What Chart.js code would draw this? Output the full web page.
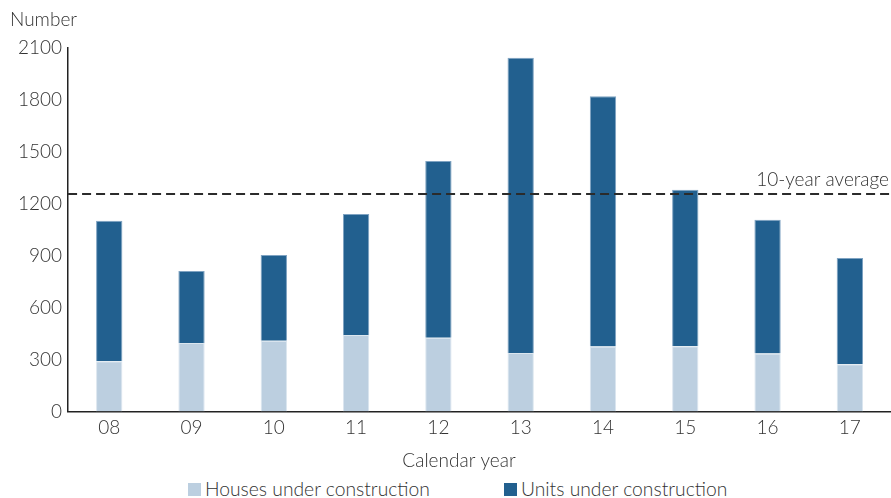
<!DOCTYPE html>
<html>
<head>
<meta charset="utf-8">
<script src="https://cdn.jsdelivr.net/npm/chart.js@4/dist/chart.umd.min.js"></script>
<style>
  html, body { margin: 0; padding: 0; background: #fff; }
  #wrap { width: 891px; height: 498px; position: relative; }
  #chartBox { position: absolute; left: 0; top: 0; width: 891px; height: 476px; }
  #legend { position: absolute; left: 188px; top: 478px; height: 22px; display: flex; align-items: center;
            font-family: Lato, "Open Sans", sans-serif; font-weight: 300; font-size: 19.3px; color: #333; line-height: 22px; }
  #legend .item { display: flex; align-items: center; }
  #legend .item + .item { margin-left: 74px; }
  #legend .sw { width: 13px; height: 13px; margin-right: 4px; }
</style>
</head>
<body>
<div id="wrap">
  <div id="chartBox"><canvas id="houseChart"></canvas></div>
  <div id="legend"></div>
</div>
<script>
const years = ['08', '09', '10', '11', '12', '13', '14', '15', '16', '17'];
const houses = [290, 395, 408, 441, 425, 338, 375, 377, 334, 273];
const units = [812, 416, 496, 700, 1022, 1705, 1446, 904, 774, 613];
const tenYearAverage = 1257;
const yTicks = [0, 300, 600, 900, 1200, 1500, 1800, 2100];

const textColor = '#333333';
const fontFamily = 'Lato, "Open Sans", sans-serif';

// dashed average line, "Number" label and the x axis title
const extras = {
  id: 'extras',
  afterDatasetsDraw(chart) {
    const { ctx, chartArea, scales } = chart;
    const y = scales.y.getPixelForValue(tenYearAverage);
    ctx.save();
    ctx.strokeStyle = '#2b2b2b';
    ctx.lineWidth = 2;
    ctx.setLineDash([9, 5]);
    ctx.beginPath();
    ctx.moveTo(chartArea.left, y);
    ctx.lineTo(chartArea.right, y);
    ctx.stroke();
    ctx.setLineDash([]);
    ctx.fillStyle = textColor;
    ctx.font = '300 19px ' + fontFamily;
    ctx.textAlign = 'right';
    ctx.textBaseline = 'bottom';
    ctx.fillText('10-year average', chartArea.right - 2, y - 5);
    ctx.textAlign = 'left';
    ctx.textBaseline = 'middle';
    ctx.fillText('Number', 10, 20);
    ctx.textAlign = 'center';
    ctx.fillText('Calendar year', 459, chartArea.bottom + 49);
    ctx.restore();
  }
};

document.addEventListener('DOMContentLoaded', function() {
  const ctx = document.getElementById('houseChart').getContext('2d');
  const chart = new Chart(ctx, {
    type: 'bar',
    data: {
      labels: years,
      datasets: [
        {
          label: 'Houses under construction',
          data: houses,
          backgroundColor: '#bccfe0',
          borderColor: '#dbe6ef',
          borderWidth: 1,
          borderSkipped: 'bottom'
        },
        {
          label: 'Units under construction',
          data: units,
          backgroundColor: '#22608f',
          borderColor: '#7fa3c2',
          borderWidth: 1,
          borderSkipped: 'bottom'
        }
      ]
    },
    options: {
      responsive: true,
      maintainAspectRatio: false,
      animation: false,
      layout: { padding: { top: 48, left: 12, right: 0, bottom: 0 } },
      datasets: {
        bar: { categoryPercentage: 1, barPercentage: 0.32 }
      },
      scales: {
        x: {
          stacked: true,
          grid: { display: false, drawTicks: false },
          border: { display: true, color: '#222', width: 1.5 },
          ticks: { color: textColor, font: { family: fontFamily, size: 19, weight: 300 }, padding: 5 },
          title: {
            // space kept here, the text itself is drawn by the extras plugin
            display: true,
            text: 'Calendar year',
            color: 'rgba(0,0,0,0)',
            font: { family: fontFamily, size: 19, weight: 300 },
            padding: { top: 3, bottom: 6 }
          }
        },
        y: {
          stacked: true,
          min: 0,
          max: 2100,
          afterBuildTicks(axis) { axis.ticks = yTicks.map(v => ({ value: v })); },
          grid: { display: false, drawTicks: false },
          border: { display: true, color: '#222', width: 1.5 },
          ticks: {
            color: textColor,
            font: { family: fontFamily, size: 19, weight: 300 },
            padding: 6,
            callback: v => String(v)
          }
        }
      },
      plugins: {
        legend: { display: false },
        tooltip: { enabled: false }
      }
    },
    plugins: [extras]
  });

  // legend as html, from the chart's own datasets
  const legendEl = document.getElementById('legend');
  chart.data.datasets.forEach(ds => {
    const item = document.createElement('div');
    item.className = 'item';
    const sw = document.createElement('span');
    sw.className = 'sw';
    sw.style.background = ds.backgroundColor;
    const txt = document.createElement('span');
    txt.textContent = ds.label;
    item.appendChild(sw);
    item.appendChild(txt);
    legendEl.appendChild(item);
  });
});
</script>
</body>
</html>
